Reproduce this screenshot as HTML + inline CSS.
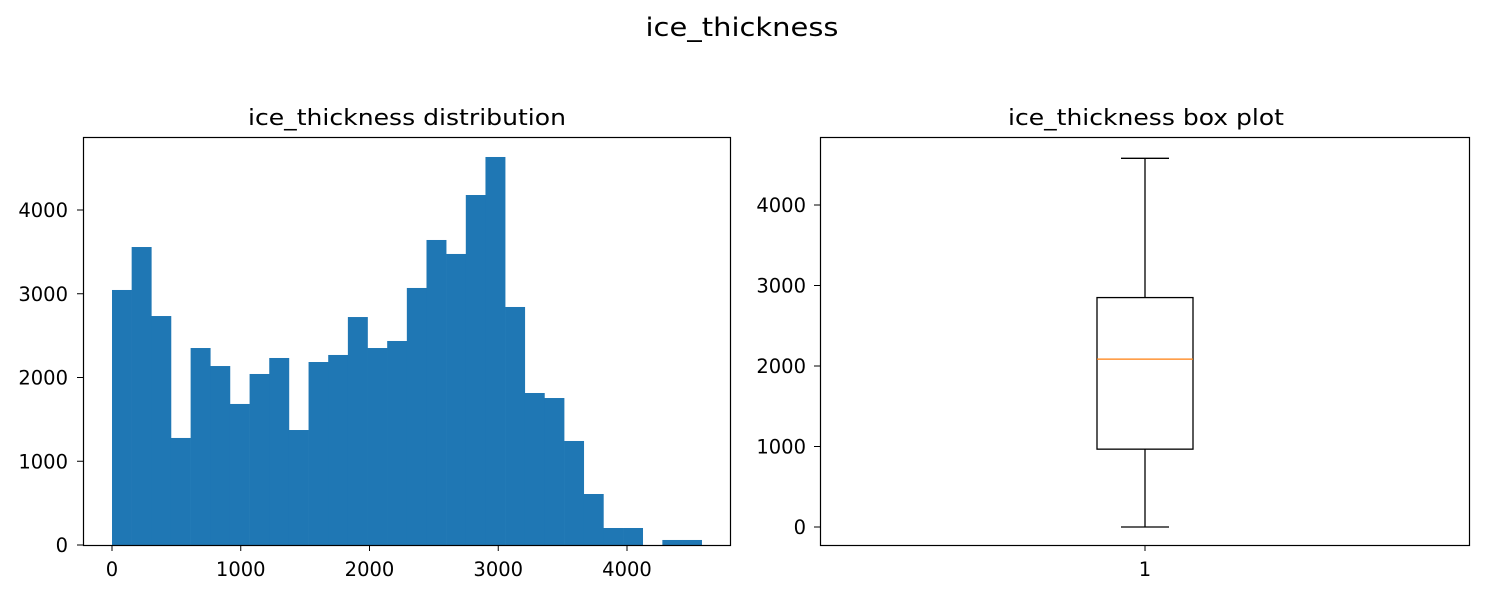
<!DOCTYPE html>
<html><head><meta charset="utf-8"><style>
body{margin:0;background:#fff;}
svg{display:block;font-family:"DejaVu Sans","Liberation Sans",sans-serif;}
</style></head><body>
<svg id="chart" width="1485" height="595">
<text x="742" y="36" font-size="26" text-anchor="middle" textLength="193" lengthAdjust="spacingAndGlyphs">ice_thickness</text>
<g id="left"></g>
<g id="right"></g>
</svg>
<script>
const histCounts=[3045,3558,2734,1278,2352,2137,1684,2042,2233,1373,2185,2269,2722,2352,2436,3069,3642,3475,4179,4633,2842,1815,1755,1242,609,203,203,0,60,60];
const histMin=0, histMax=4580;
const histXTicks=[0,1000,2000,3000,4000];
const histYTicks=[0,1000,2000,3000,4000];
const boxStats=[0,967,2085,2850,4580]; // min,q1,median,q3,max
const boxYTicks=[0,1000,2000,3000,4000];
const boxXLabels=["1"];

const NS="http://www.w3.org/2000/svg";
function mk(parent,tag,attrs,text){const e=document.createElementNS(NS,tag);for(const k in attrs)e.setAttribute(k,attrs[k]);if(text!==undefined)e.textContent=text;parent.appendChild(e);return e;}
const TF=19.5;

// Left histogram
const L=document.getElementById('left');
const lx=v=>112+(v-0)*0.12875, ly=v=>545-v*0.08375;
const bw=(histMax-histMin)/histCounts.length;
histCounts.forEach((c,i)=>{
  const x0=lx(histMin+i*bw), x1=lx(histMin+(i+1)*bw);
  const r=mk(L,'rect',{x:x0,y:ly(c),width:x1-x0+0.3,height:545-ly(c),fill:'#1f77b4'});
  
  
});
mk(L,'rect',{x:83.5,y:137.5,width:647,height:408,fill:'none',stroke:'#000','stroke-width':1.2,});
histXTicks.forEach(t=>{const x=lx(t);mk(L,'line',{x1:x,x2:x,y1:546,y2:551,stroke:'#000'});
  const tx=mk(L,'text',{x:x,y:576,'font-size':TF,'text-anchor':'middle'},String(t));
  });
histYTicks.forEach(t=>{const y=ly(t);mk(L,'line',{x1:77,x2:83,y1:y,y2:y,stroke:'#000'});
  const tx=mk(L,'text',{x:68,y:y+7,'font-size':TF,'text-anchor':'end'},String(t));
  });
mk(L,'text',{x:407,y:125,'font-size':22,'text-anchor':'middle',textLength:318,lengthAdjust:'spacingAndGlyphs',},'ice_thickness distribution');

// Right boxplot
const R=document.getElementById('right');
const ry=v=>527-v*0.0805;
mk(R,'rect',{x:820.5,y:137.5,width:649,height:408,fill:'none',stroke:'#000','stroke-width':1.2,});
const cx=1145;
const [mn,q1,med,q3,mx]=boxStats;
mk(R,'line',{x1:cx,x2:cx,y1:ry(q3),y2:ry(mx),stroke:'#000','stroke-width':1.3,});
mk(R,'line',{x1:cx,x2:cx,y1:ry(mn),y2:ry(q1),stroke:'#000','stroke-width':1.3,});
mk(R,'line',{x1:cx-24,x2:cx+24,y1:ry(mx),y2:ry(mx),stroke:'#000','stroke-width':1.3,});
mk(R,'line',{x1:cx-24,x2:cx+24,y1:ry(mn),y2:ry(mn),stroke:'#000','stroke-width':1.3,});
mk(R,'rect',{x:cx-48,y:ry(q3),width:96,height:ry(q1)-ry(q3),fill:'none',stroke:'#000','stroke-width':1.3,});
mk(R,'line',{x1:cx-48,x2:cx+48,y1:ry(med),y2:ry(med),stroke:'#ff7f0e','stroke-width':1.3,});
boxYTicks.forEach(t=>{const y=ry(t);mk(R,'line',{x1:814,x2:820,y1:y,y2:y,stroke:'#000'});
  const tx=mk(R,'text',{x:806,y:y+7,'font-size':TF,'text-anchor':'end'},String(t));
  });
boxXLabels.forEach(l=>{mk(R,'line',{x1:cx,x2:cx,y1:546,y2:551,stroke:'#000'});
  const tx=mk(R,'text',{x:cx,y:576,'font-size':TF,'text-anchor':'middle'},l);
  });
mk(R,'text',{x:1146,y:125,'font-size':22,'text-anchor':'middle',textLength:276,lengthAdjust:'spacingAndGlyphs',},'ice_thickness box plot');
</script>
</body></html>
